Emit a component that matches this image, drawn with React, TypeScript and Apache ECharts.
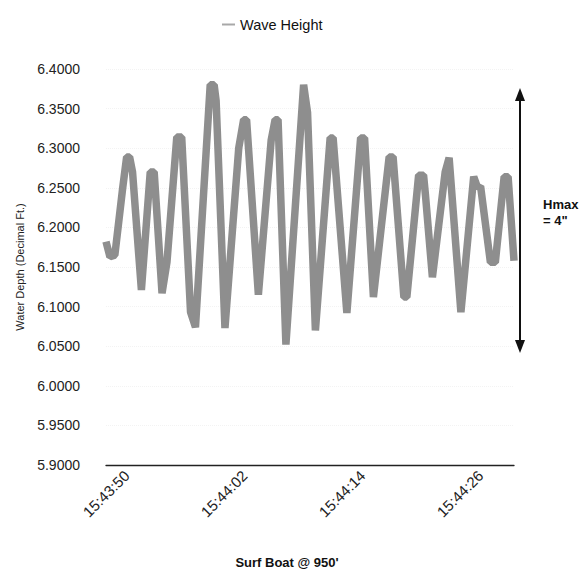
import React, { useEffect, useRef } from "react";
import * as echarts from "echarts";

// Seconds relative to 15:43:50 (turning points)
const timeSec = [
  -2.1, -1.7, -1.2, -0.4, 0.0, 0.3, 0.6, 1.5, 2.4, 2.8, 3.6, 4.1, 5.1, 5.6, 6.5, 7.0,
  8.5, 8.9, 9.1, 10.0, 11.4, 11.9, 12.2, 13.4, 14.7, 15.1, 15.4, 16.2, 18.0, 18.4,
  19.2, 20.7, 21.0, 22.4, 23.8, 24.2, 25.1, 26.7, 27.1, 28.2, 28.5, 29.7, 30.2, 30.4,
  31.1, 32.4, 32.8, 34.0, 35.3, 35.7, 36.0, 37.0, 37.5, 38.4, 38.8, 39.4,
];
const depthFt = [
  6.182, 6.163, 6.165, 6.25, 6.289, 6.289, 6.27, 6.121, 6.27, 6.27, 6.117, 6.156, 6.314, 6.314, 6.093, 6.074,
  6.38, 6.38, 6.36, 6.073, 6.3, 6.336, 6.336, 6.115, 6.31, 6.336, 6.336, 6.052, 6.38, 6.345,
  6.07, 6.313, 6.313, 6.092, 6.313, 6.313, 6.112, 6.289, 6.289, 6.112, 6.112, 6.266, 6.266, 6.24,
  6.137, 6.27, 6.288, 6.093, 6.264, 6.25, 6.252, 6.156, 6.156, 6.264, 6.264, 6.158,
];
const tickSeconds = [0, 12, 24, 36];
const tickLabels = ["15:43:50", "15:44:02", "15:44:14", "15:44:26"];
const seriesName = "Wave Height";
const yMin = 5.9;
const yMax = 6.4;
const yStep = 0.05;

const FONT = "'Liberation Sans', Arial, Helvetica, sans-serif";

export default function App() {
  const ref = useRef<HTMLDivElement>(null);
  useEffect(() => {
    const chart = echarts.init(ref.current!, null, { renderer: "svg" });
    const data = timeSec.map((t, i) => [t, depthFt[i]]);
    chart.setOption({
      animation: false,
      backgroundColor: "#ffffff",
      textStyle: { fontFamily: FONT },
      legend: {
        left: 217,
        top: 12,
        itemWidth: 13,
        itemHeight: 2,
        itemGap: 10,
        textStyle: { fontSize: 14.5, color: "#111", fontFamily: FONT },
        data: [{ name: seriesName, icon: "rect", itemStyle: { color: "#a8a8a8" } }],
      },
      grid: { left: 106, right: 69, top: 69, bottom: 106 },
      xAxis: {
        type: "value",
        min: timeSec[0],
        max: timeSec[timeSec.length - 1],
        axisLine: { show: true, lineStyle: { color: "#222", width: 1.3 } },
        axisTick: { show: false },
        splitLine: { show: false },
        axisLabel: {
          customValues: tickSeconds,
          formatter: (v: number) => {
            const i = tickSeconds.indexOf(Math.round(v));
            return i >= 0 ? tickLabels[i] : "";
          },
          rotate: 45,
          fontSize: 15,
          color: "#222",
          margin: 8,
          fontFamily: FONT,
        },
      },
      yAxis: {
        type: "value",
        min: yMin,
        max: yMax,
        interval: yStep,
        name: "Water Depth (Decimal Ft.)",
        nameLocation: "middle",
        nameGap: 81,
        nameTextStyle: { fontSize: 11, color: "#222", fontFamily: FONT },
        axisLine: { show: false },
        axisTick: { show: false },
        splitLine: { show: true, lineStyle: { color: "#f3f3f3", type: "dotted", width: 1 } },
        axisLabel: {
          formatter: (v: number) => v.toFixed(4),
          fontSize: 14,
          color: "#222",
          margin: 26,
          fontFamily: FONT,
        },
      },
      series: [
        {
          name: seriesName,
          type: "line",
          data,
          symbol: "none",
          showSymbol: false,
          itemStyle: { color: "#8e8e8e" },
          lineStyle: { color: "#8e8e8e", width: 7.5, join: "bevel", cap: "butt" },
        },
      ],
      graphic: [
        { type: "line", shape: { x1: 520, y1: 98, x2: 520, y2: 344 }, style: { stroke: "#111", lineWidth: 2 } },
        { type: "polygon", shape: { points: [[520, 88], [515, 101], [525, 101]] }, style: { fill: "#111" } },
        { type: "polygon", shape: { points: [[520, 353], [515, 340], [525, 340]] }, style: { fill: "#111" } },
        {
          type: "text",
          x: 543,
          y: 204,
          style: { text: "Hmax", fontSize: 13, fontWeight: "bold", fill: "#111", fontFamily: FONT, verticalAlign: "middle" },
        },
        {
          type: "text",
          x: 543,
          y: 220,
          style: { text: "= 4\"", fontSize: 13, fontWeight: "bold", fill: "#111", fontFamily: FONT, verticalAlign: "middle" },
        },
        {
          type: "text",
          x: 287,
          y: 562,
          style: {
            text: "Surf Boat @ 950'",
            fontSize: 13,
            fontWeight: "bold",
            fill: "#111",
            fontFamily: FONT,
            align: "center",
            verticalAlign: "middle",
          },
        },
      ],
    });
    return () => chart.dispose();
  }, []);
  return <div ref={ref} style={{ position: "fixed", left: 0, top: 0, width: 583, height: 571 }} />;
}
